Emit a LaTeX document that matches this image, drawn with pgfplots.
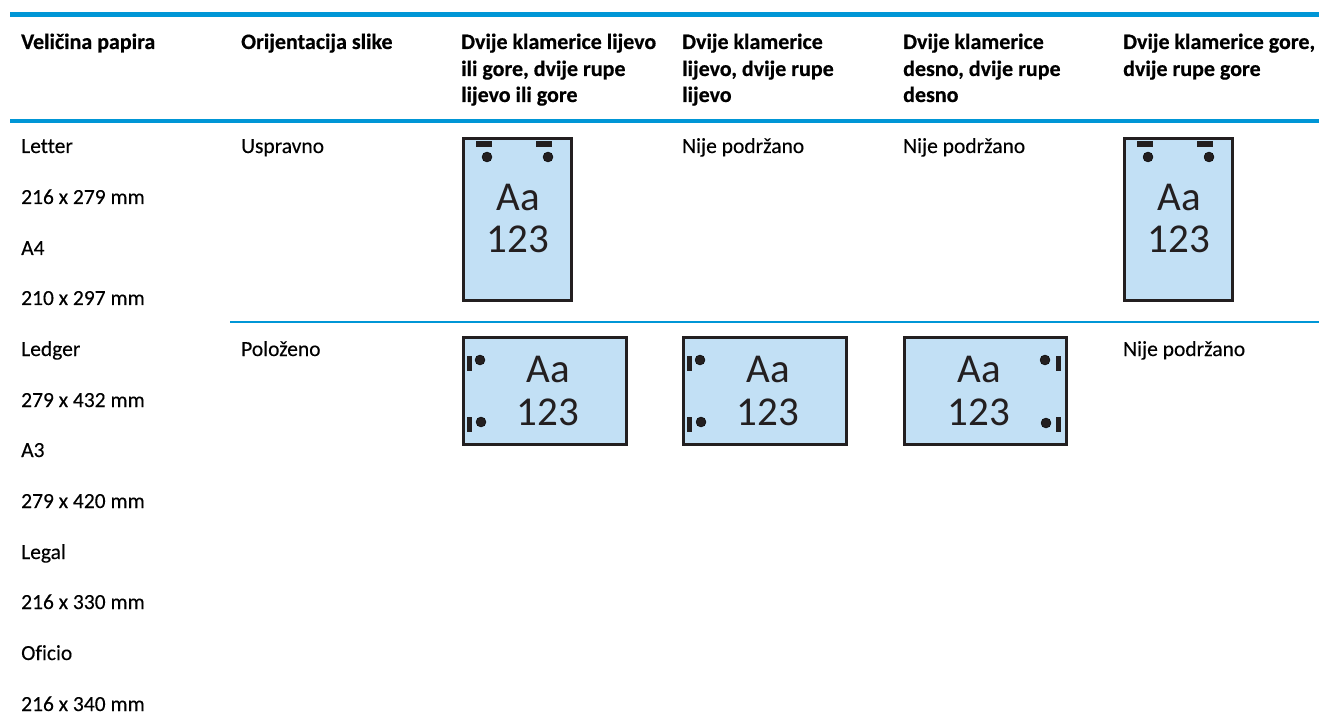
\documentclass[border=0pt]{standalone}
\usepackage{fontspec}
\setmainfont{Carlito}
\newfontfamily\bodyf{Carlito}[FakeBold=0.25,Ligatures=NoCommon]
\newfontfamily\headf{Carlito Bold}[FakeBold=0.5,Ligatures=NoCommon]
\usepackage{pgfplots}
\pgfplotsset{compat=1.18}
\definecolor{hpblue}{HTML}{0096D6}
\definecolor{paperblue}{HTML}{C2E0F5}
\definecolor{ink}{HTML}{231F20}
\newcommand{\bt}[2]{\node[anchor=base west,inner sep=0pt,font=\fontsize{22}{22}\selectfont\headf,text=black] at (axis cs:#1) {#2};}
\newcommand{\tx}[2]{\node[anchor=base west,inner sep=0pt,font=\fontsize{21.5}{21.5}\selectfont\bodyf,text=black] at (axis cs:#1) {#2};}
\newcommand{\labAa}[2]{%
 \node[anchor=base,inner sep=0pt,font=\fontsize{41}{41}\selectfont,text=ink] at (axis cs:#1,#2) {Aa};}
\newcommand{\labNum}[2]{%
 \node[anchor=base,inner sep=0pt,font=\fontsize{41}{41}\selectfont,text=ink] at (axis cs:#1,#2) {123};}
\newcommand{\paper}[4]{\addplot[draw=ink,line width=2.6pt,fill=paperblue] coordinates {(#1,#2) (#3,#2) (#3,#4) (#1,#4)} --cycle;}
\newcommand{\solid}[5]{\addplot[draw=none,fill=#5] coordinates {(#1,#2) (#3,#2) (#3,#4) (#1,#4)} --cycle;}
\begin{document}
\begin{tikzpicture}
\begin{axis}[width=1319pt,height=727pt,scale only axis,hide axis,
  xmin=0,xmax=1319,ymin=0,ymax=727,y dir=reverse,clip=false,no markers]
% rules
\solid{10}{12}{1319}{17}{hpblue}
\solid{10}{119.2}{1319}{122.8}{hpblue}
\solid{230}{321.2}{1319}{322.8}{hpblue}
% papers
\paper{463.3}{138.3}{571.7}{300.7}
\paper{1124.3}{138.3}{1232.7}{300.7}
\paper{463.3}{337.3}{626.7}{444.7}
\paper{683.3}{337.3}{846.7}{444.7}
\paper{904.3}{337.3}{1066.7}{444.7}
% staples
\solid{476}{141}{492}{147}{ink}
\solid{536}{141}{552}{147}{ink}
\solid{1137}{141}{1153}{147}{ink}
\solid{1197}{141}{1213}{147}{ink}
\solid{467}{356}{472}{371}{ink}
\solid{467}{417}{472}{432}{ink}
\solid{687}{356}{692}{371}{ink}
\solid{687}{417}{692}{432}{ink}
\solid{1056}{356}{1061}{371}{ink}
\solid{1056}{417}{1061}{432}{ink}
% holes
\addplot[only marks,mark=*,mark size=5pt,mark options={draw=none,fill=ink}] coordinates {
 (487,157) (548,157) (1148,157) (1209,157)
 (480,360) (481,422) (700,360) (701,422)
 (1045,360) (1046,423)};
% picture texts
\labAa{518}{211}\labNum{518}{253}
\labAa{1179}{211}\labNum{1179}{253}
\labAa{548}{382}\labNum{548}{425}
\labAa{768}{382}\labNum{768}{425}
\labAa{979}{382}\labNum{979}{425}
% header
\bt{21,49}{Veličina papira}
\bt{241,49}{Orijentacija slike}
\bt{461,49}{Dvije klamerice lijevo}
\bt{461,76}{ili gore, dvije rupe}
\bt{461,102}{lijevo ili gore}
\bt{682,49}{Dvije klamerice}
\bt{682,76}{lijevo, dvije rupe}
\bt{682,102}{lijevo}
\bt{903,49}{Dvije klamerice}
\bt{903,76}{desno, dvije rupe}
\bt{903,102}{desno}
\bt{1123,49}{Dvije klamerice gore,}
\bt{1123,76}{dvije rupe gore}
% body
\tx{21,153}{Letter}
\tx{21,204}{216 x 279 mm}
\tx{21,255}{A4}
\tx{21,305}{210 x 297 mm}
\tx{21,356}{Ledger}
\tx{21,407}{279 x 432 mm}
\tx{21,457}{A3}
\tx{21,508}{279 x 420 mm}
\tx{21,559}{Legal}
\tx{21,609}{216 x 330 mm}
\tx{21,660}{Oficio}
\tx{21,711}{216 x 340 mm}
\tx{241,153}{Uspravno}
\tx{241,356}{Položeno}
\tx{682,153}{Nije podržano}
\tx{903,153}{Nije podržano}
\tx{1123,356}{Nije podržano}
\end{axis}
\useasboundingbox (0,0) rectangle (1319pt,727pt);
\end{tikzpicture}
\end{document}
